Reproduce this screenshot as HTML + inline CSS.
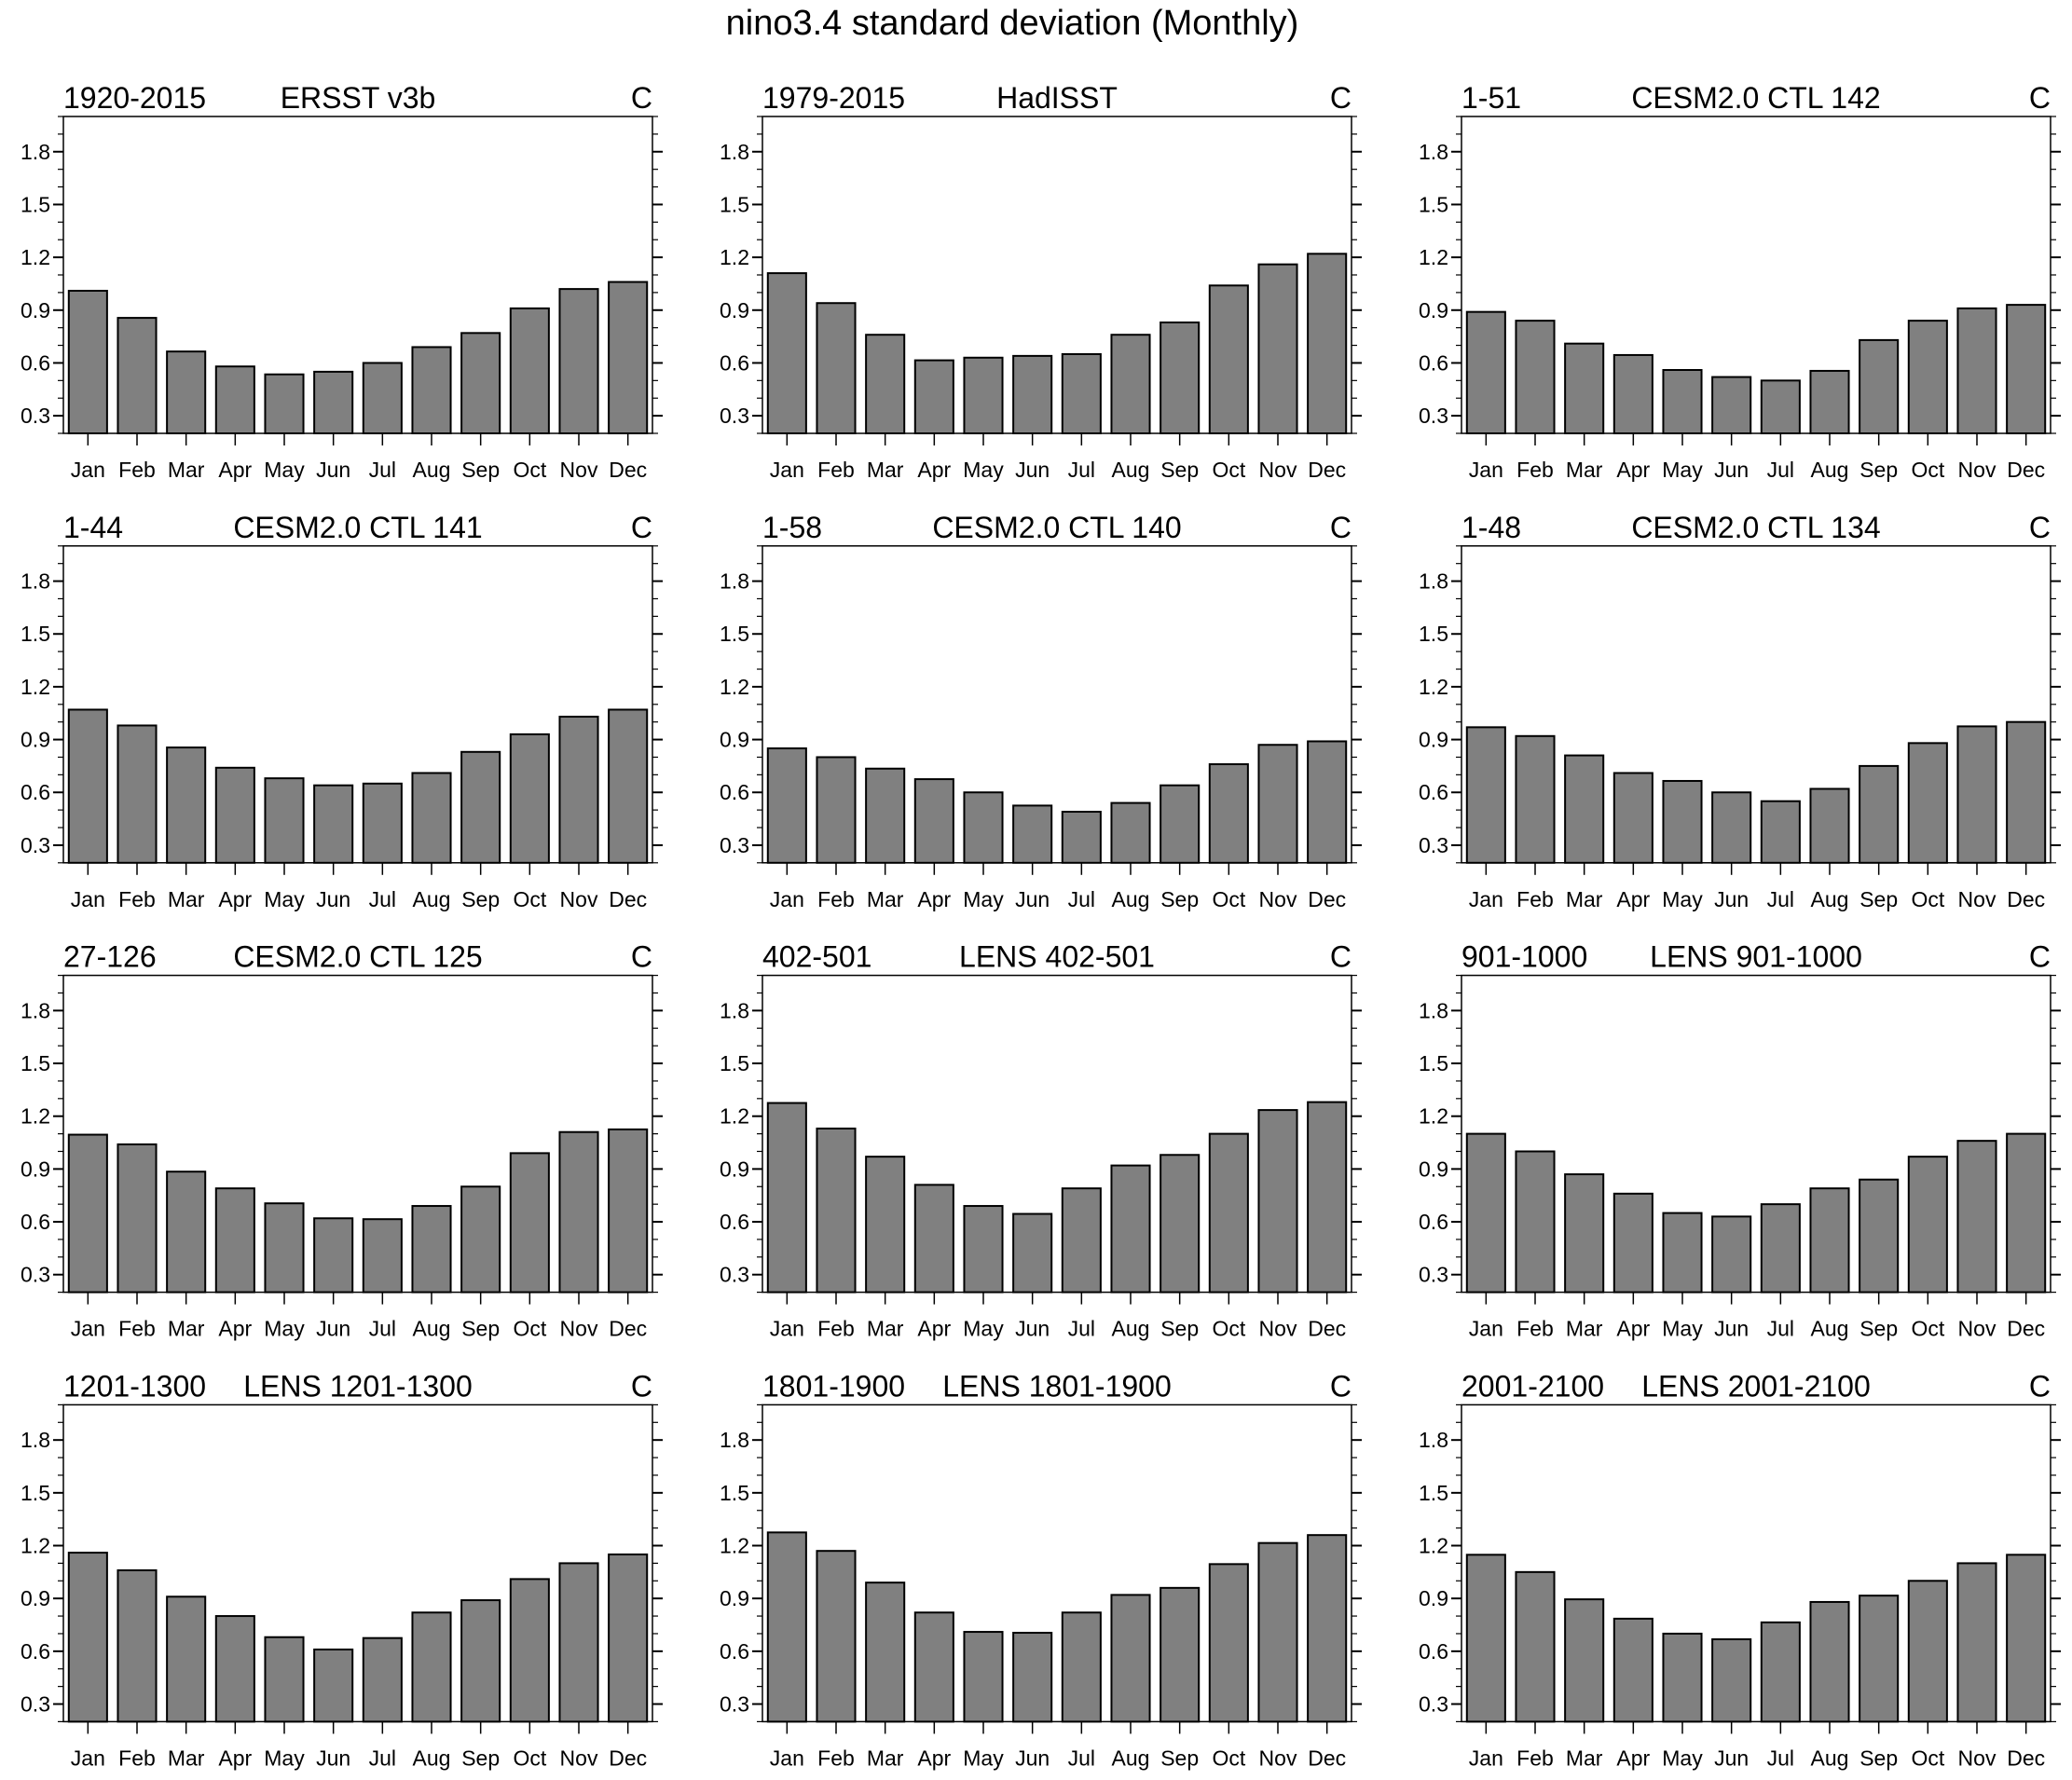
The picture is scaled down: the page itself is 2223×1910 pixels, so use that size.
<!DOCTYPE html>
<html><head><meta charset="utf-8"><style>
body{margin:0;background:#fff;}
svg{display:block;font-family:"Liberation Sans",sans-serif;}
</style></head><body>
<svg id="c" width="2223" height="1910" viewBox="0 0 2223 1910">
<text x="1086" y="37" font-size="38" text-anchor="middle">nino3.4 standard deviation (Monthly)</text>
</svg>
<script>
const months = ["Jan","Feb","Mar","Apr","May","Jun","Jul","Aug","Sep","Oct","Nov","Dec"];
const yTicks = [0.3,0.6,0.9,1.2,1.5,1.8];
const yTickLabels = ["0.3","0.6","0.9","1.2","1.5","1.8"];
const leftLabels = ["1920-2015","1979-2015","1-51","1-44","1-58","1-48","27-126","402-501","901-1000","1201-1300","1801-1900","2001-2100"];
const centerLabels = ["ERSST v3b","HadISST","CESM2.0 CTL 142","CESM2.0 CTL 141","CESM2.0 CTL 140","CESM2.0 CTL 134","CESM2.0 CTL 125","LENS 402-501","LENS 901-1000","LENS 1201-1300","LENS 1801-1900","LENS 2001-2100"];
const s1 = [1.01,0.856,0.665,0.58,0.535,0.55,0.60,0.69,0.77,0.91,1.02,1.06];
const s2 = [1.11,0.94,0.76,0.615,0.63,0.64,0.65,0.76,0.83,1.04,1.16,1.22];
const s3 = [0.89,0.84,0.71,0.645,0.56,0.52,0.50,0.555,0.73,0.84,0.91,0.93];
const s4 = [1.07,0.98,0.855,0.74,0.68,0.64,0.65,0.71,0.83,0.93,1.03,1.07];
const s5 = [0.85,0.80,0.735,0.675,0.60,0.525,0.49,0.54,0.64,0.76,0.87,0.89];
const s6 = [0.97,0.92,0.81,0.71,0.665,0.60,0.55,0.62,0.75,0.88,0.975,1.0];
const s7 = [1.095,1.04,0.885,0.79,0.705,0.62,0.615,0.69,0.80,0.99,1.11,1.125];
const s8 = [1.275,1.13,0.97,0.81,0.69,0.645,0.79,0.92,0.98,1.1,1.235,1.28];
const s9 = [1.1,1.0,0.87,0.76,0.65,0.63,0.70,0.79,0.84,0.97,1.06,1.1];
const s10 = [1.16,1.06,0.91,0.80,0.68,0.61,0.675,0.82,0.89,1.01,1.10,1.15];
const s11 = [1.275,1.17,0.99,0.82,0.71,0.705,0.82,0.92,0.96,1.095,1.215,1.26];
const s12 = [1.148,1.05,0.895,0.785,0.70,0.668,0.764,0.88,0.916,1.0,1.1,1.148];
const series = [s1,s2,s3,s4,s5,s6,s7,s8,s9,s10,s11,s12];
const YMIN=0.2, YMAX=2.0;
const svg=document.getElementById('c');
const NS="http://www.w3.org/2000/svg";
function mk(tag,attrs,parent){const e=document.createElementNS(NS,tag);for(const k in attrs)e.setAttribute(k,attrs[k]);parent.appendChild(e);return e;}
const PW=632, PH=340;
for(let p=0;p<12;p++){
  const col=p%3,row=Math.floor(p/3);
  const x0=68+col*750, y0=125+row*460.8;
  const g=mk('g',{},svg);
  
  
  const yS=v=>y0+PH-(v-YMIN)/(YMAX-YMIN)*PH;
  const slot=PW/12;
  const xS=i=>x0+slot*(i+0.5);
  let t=mk('text',{x:x0,y:y0-9,'font-size':32},g);t.textContent=leftLabels[p];
  
  t=mk('text',{x:x0+PW/2,y:y0-9,'font-size':32,'text-anchor':'middle'},g);t.textContent=centerLabels[p];
  
  t=mk('text',{x:x0+PW,y:y0-9,'font-size':32,'text-anchor':'end'},g);t.textContent="C";
  
  series[p].forEach((v,i)=>{
    const bw=slot*0.78;
    const r=mk('rect',{x:xS(i)-bw/2,y:yS(v),width:bw,height:yS(YMIN)-yS(v),fill:'#808080',stroke:'#000','stroke-width':2},g);
    
    
  });
  const f=mk('rect',{x:x0,y:y0,width:PW,height:PH,fill:'none',stroke:'#000','stroke-width':1.5},g);
  
  for(let k=2;k<=20;k++){
    const v=k/10, y=yS(v);
    const major=yTicks.some(m=>Math.abs(m-v)<1e-6);
    const L=major?11:6;
    mk('line',{x1:x0-L,y1:y,x2:x0,y2:y,stroke:'#000','stroke-width':major?2:1.2},g);
    mk('line',{x1:x0+PW,y1:y,x2:x0+PW+L,y2:y,stroke:'#000','stroke-width':major?2:1.2},g);
  }
  yTicks.forEach((v,i)=>{
    const tl=mk('text',{x:x0-14,y:yS(v)+8,'font-size':23,'text-anchor':'end'},g);tl.textContent=yTickLabels[i];
    
  });
  months.forEach((m,i)=>{
    mk('line',{x1:xS(i),y1:y0+PH,x2:xS(i),y2:y0+PH+13,stroke:'#000','stroke-width':1.5},g);
    const tl=mk('text',{x:xS(i),y:y0+PH+47,'font-size':23,'text-anchor':'middle'},g);tl.textContent=m;
    
  });
}
</script>
</body></html>
